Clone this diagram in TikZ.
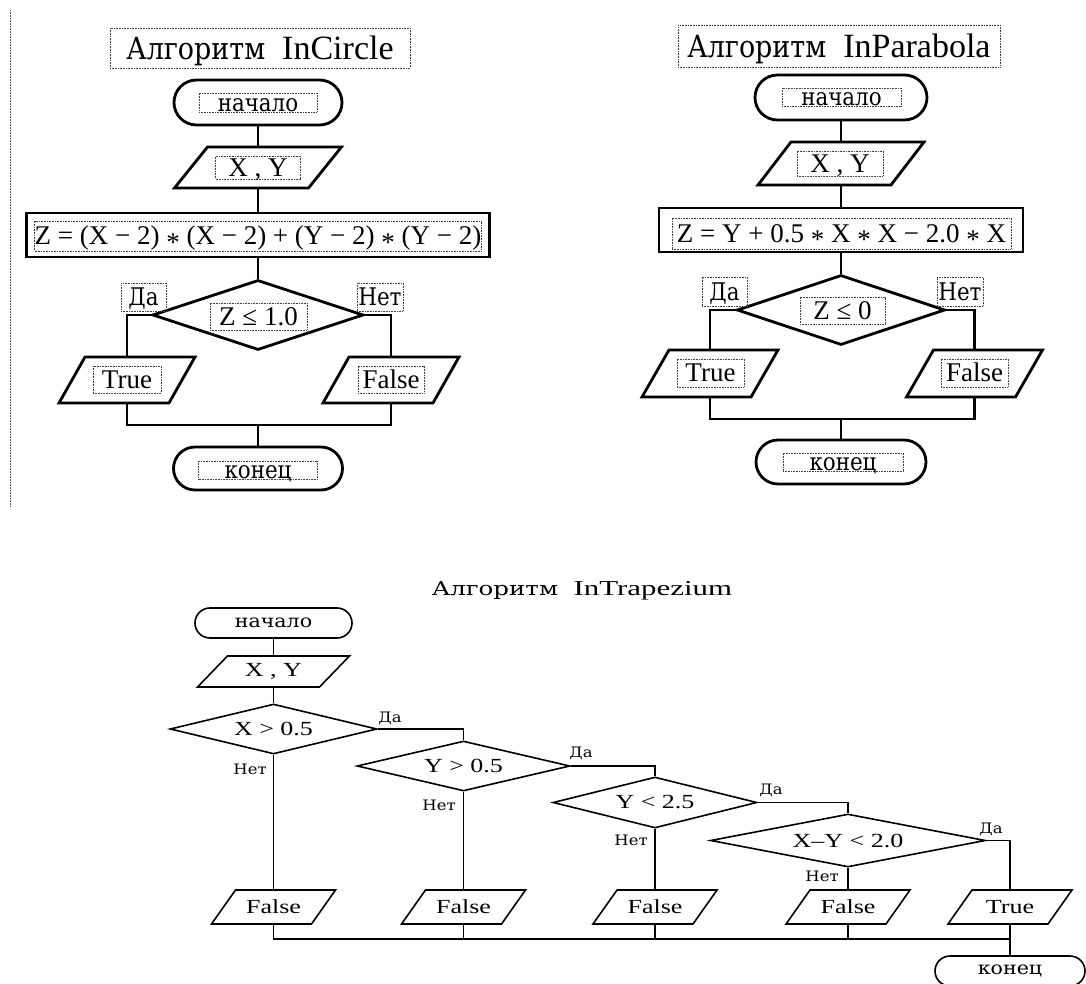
\documentclass[tikz,border=0pt]{standalone}
\usepackage{fontspec}
\usepackage{graphicx}
\setmainfont{Liberation Serif}
\newfontfamily\cyrserif[Scale=0.9]{DejaVu Serif}
\usetikzlibrary{shapes.geometric,shapes.misc}

% font sizes (1 unit = 0.75pt)
\newcommand\fTitle{\fontsize{25.5pt}{30pt}\selectfont}
\newcommand\fMain{\fontsize{20.25pt}{24pt}\selectfont}
\newcommand\fSmall{\fontsize{15pt}{18pt}\selectfont}
\newcommand\fLabel{\fontsize{12pt}{14pt}\selectfont}
\newcommand\fCap{\fontsize{16pt}{19pt}\selectfont}
\newcommand\widen[1]{\scalebox{1.3}[1]{#1}}
\newcommand\ru[1]{{\cyrserif\scalebox{0.88}[1]{#1}}}
\newcommand\opmul{\raisebox{-0.55ex}{*}}

\tikzset{
  sz/.style 2 args={minimum width={#1*0.75pt}, minimum height={#2*0.75pt}},
  heavy/.style={line width=2.1pt, line join=miter},
  light/.style={line width=1.2pt, line join=miter},
  txtframe/.style={draw=black!75, line width=0.6pt, dash pattern=on 0.6pt off 0.6pt,
    inner sep=0pt, text height=13pt, text depth=0pt},
  term/.style={rounded rectangle, draw, inner sep=0pt},
  decision/.style={diamond, draw, inner sep=0pt},
  block/.style={rectangle, draw, inner sep=0pt},
  slot/.style={inner sep=0pt, outer sep=0pt},
}

% input/output parallelogram: name, x, y, width, height, slant, line style, text
\newcommand\ioshape[8]{%
  \node[slot, sz={#4}{#5}] (#1) at (#2,#3) {#8};
  \draw[#7] ([xshift=-#6*0.375pt]#1.south west) -- ([xshift=-#6*0.375pt]#1.south east)
    -- ([xshift=#6*0.375pt]#1.north east) -- ([xshift=#6*0.375pt]#1.north west) -- cycle;}

\begin{document}
\begin{tikzpicture}[x=0.75pt,y=-0.75pt]
\useasboundingbox (0,0) rectangle (1086,984);

% margin rule
\draw[draw=black!70, line width=0.7pt, dash pattern=on 0.6pt off 0.6pt] (10,10) -- (10,507);

% ---------------- InCircle ----------------
\node[txtframe, sz={300}{40}, font=\fTitle, text height=17pt] (hA) at (260,48) {\ru{Алгоритм}~~InCircle};
\node[term, heavy, sz={168}{45}] (sA) at (258,102.5) {};
\node[txtframe, sz={118}{19}, font=\fMain] (sAt) at (258,102.5) {\ru{начало}};
\ioshape{iA}{258}{167.5}{134}{41}{33}{heavy}{}
\node[txtframe, sz={85}{23}, font=\fMain] (iAt) at (258,167.5) {X , Y};
\node[block, heavy, sz={463}{44}] (pA) at (258,235) {};
\node[txtframe, sz={446}{30}, font=\fMain] (pAt) at (258,236)
  {Z = (X − 2) \opmul{} (X − 2) + (Y − 2) \opmul{} (Y − 2)};
\node[decision, heavy, sz={211}{70}] (dA) at (258,315) {};
\node[txtframe, sz={97}{27}, font=\fMain] (dAt) at (258.5,316.5) {Z ≤ 1.0};
\node[txtframe, sz={45}{28}, font=\fMain] (yA) at (143.5,297) {\ru{Да}};
\node[txtframe, sz={46}{28}, font=\fMain] (nA) at (380,297) {\ru{Нет}};
\ioshape{trA}{127}{380}{110}{46}{26}{heavy}{}
\node[txtframe, sz={68}{27}, font=\fMain] (trAt) at (127,379.5) {True};
\ioshape{faA}{391}{380}{110}{46}{26}{heavy}{}
\node[txtframe, sz={66}{27}, font=\fMain] (faAt) at (391,379.5) {False};
\node[term, heavy, sz={169}{43}] (eA) at (258,468.5) {};
\node[txtframe, sz={119}{18}, font=\fMain] (eAt) at (258,470) {\ru{конец}};
\coordinate (jA) at (258,425);

\draw[heavy] (sA.south) -- (iA.north);
\draw[heavy] (iA.south) -- (pA.north);
\draw[heavy] (pA.south) -- (dA.north);
\draw[heavy] (dA.west) -| (trA.north);
\draw[heavy] (dA.east) -| (faA.north);
\draw[heavy] (trA.south) |- (jA) -| (faA.south);
\draw[heavy] (jA) -- (eA.north);

% ---------------- InParabola ----------------
\node[txtframe, sz={322}{42}, font=\fTitle, text height=17pt] (hB) at (839,46) {\ru{Алгоритм}~~InParabola};
\node[term, heavy, sz={172}{45}] (sB) at (841,97.5) {};
\node[txtframe, sz={119}{18}, font=\fMain] (sBt) at (841.5,97) {\ru{начало}};
\ioshape{iB}{841}{163.5}{133}{43}{33}{heavy}{}
\node[txtframe, sz={86}{25}, font=\fMain] (iBt) at (840,163.5) {X , Y};
\node[block, heavy, sz={364}{44}] (pB) at (841,230) {};
\node[txtframe, sz={339}{31}, font=\fMain] (pBt) at (841.5,233.5)
  {Z = Y + 0.5 \opmul{} X \opmul{} X − 2.0 \opmul{} X};
\node[decision, heavy, sz={208}{70}] (dB) at (841,310) {};
\node[txtframe, sz={85}{27}, font=\fMain] (dBt) at (842.5,310.5) {Z ≤ 0};
\node[txtframe, sz={45}{29}, font=\fMain] (yB) at (724.5,291.5) {\ru{Да}};
\node[txtframe, sz={46}{29}, font=\fMain] (nB) at (960,291.5) {\ru{Нет}};
\ioshape{trB}{710}{373.5}{109}{47}{27}{heavy}{}
\node[txtframe, sz={67}{28}, font=\fMain] (trBt) at (710.5,373) {True};
\ioshape{faB}{974.5}{373.5}{109}{47}{27}{heavy}{}
\node[txtframe, sz={67}{28}, font=\fMain] (faBt) at (974.5,373) {False};
\node[term, heavy, sz={170}{44}] (eB) at (841,462) {};
\node[txtframe, sz={120}{18}, font=\fMain] (eBt) at (843,462) {\ru{конец}};
\coordinate (jB) at (841,419);

\draw[heavy] (sB.south) -- (iB.north);
\draw[heavy] (iB.south) -- (pB.north);
\draw[heavy] (pB.south) -- (dB.north);
\draw[heavy] (dB.west) -| (trB.north);
\draw[heavy] (dB.east) -| (faB.north);
\draw[heavy] (trB.south) |- (jB) -| (faB.south);
\draw[heavy] (jB) -- (eB.north);

% ---------------- InTrapezium ----------------
\node[font=\fCap] (hC) at (582,591) {\scalebox{1.45}[1]{\ru{Алгоритм}~~InTrapezium}};
\node[term, light, sz={157}{30}, font=\fSmall] (sC) at (273.5,623) {\widen{\ru{начало}}};
\ioshape{iC}{273.5}{671.5}{122}{31}{30}{light}{\fSmall\widen{X , Y}}
\node[decision, light, sz={207}{50}] (d1) at (273.5,729) {};
\node[decision, light, sz={213}{50}] (d2) at (463.5,766) {};
\node[decision, light, sz={204}{51}] (d3) at (655,802.5) {};
\node[decision, light, sz={275}{53}] (d4) at (848,840.5) {};
\node[font=\fSmall] (d1t) at (d1) {\widen{X > 0.5}};
\node[font=\fSmall] (d2t) at (d2) {\widen{Y > 0.5}};
\node[font=\fSmall] (d3t) at (d3) {\widen{Y < 2.5}};
\node[font=\fSmall] (d4t) at (d4) {\widen{X–Y < 2.0}};
\ioshape{f1}{273.5}{907}{100}{34}{24}{light}{\fSmall\widen{False}}
\ioshape{f2}{463.5}{907}{100}{34}{24}{light}{\fSmall\widen{False}}
\ioshape{f3}{655}{907}{100}{34}{24}{light}{\fSmall\widen{False}}
\ioshape{f4}{848}{907}{100}{34}{24}{light}{\fSmall\widen{False}}
\ioshape{t5}{1010}{907}{100}{34}{24}{light}{\fSmall\widen{True}}
\node[term, light, sz={150}{30}, font=\fSmall] (eC) at (1010,971) {\widen{\ru{конец}}};
\coordinate (jC) at (1010,939);

\node[font=\fLabel] (y1) at (390,718) {\widen{\ru{Да}}};
\node[font=\fLabel] (y2) at (581,753) {\widen{\ru{Да}}};
\node[font=\fLabel] (y3) at (771,790) {\widen{\ru{Да}}};
\node[font=\fLabel] (y4) at (991,829) {\widen{\ru{Да}}};
\node[font=\fLabel] (n1) at (250,769) {\widen{\ru{Нет}}};
\node[font=\fLabel] (n2) at (439,805) {\widen{\ru{Нет}}};
\node[font=\fLabel] (n3) at (631,840) {\widen{\ru{Нет}}};
\node[font=\fLabel] (n4) at (822,876) {\widen{\ru{Нет}}};

\draw[light] (sC.south) -- (iC.north);
\draw[light] (iC.south) -- (d1.north);
\draw[light] (d1.east) -| (d2.north);
\draw[light] (d2.east) -| (d3.north);
\draw[light] (d3.east) -| (d4.north);
\draw[light] (d4.east) -| (t5.north);
\draw[light] (d1.south) -- (f1.north);
\draw[light] (d2.south) -- (f2.north);
\draw[light] (d3.south) -- (f3.north);
\draw[light] (d4.south) -- (f4.north);
\draw[light] (f1.south) |- (jC);
\draw[light] (f2.south) -- (f2.south |- jC);
\draw[light] (f3.south) -- (f3.south |- jC);
\draw[light] (f4.south) -- (f4.south |- jC);
\draw[light] (t5.south) -- (eC.north);
\end{tikzpicture}
\end{document}
